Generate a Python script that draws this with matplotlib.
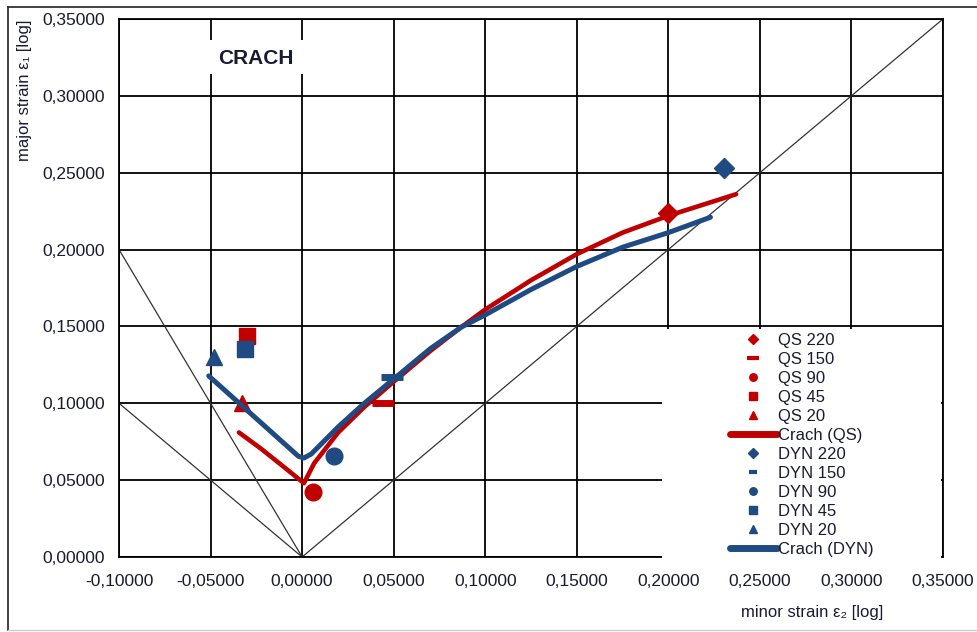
import matplotlib
matplotlib.use("Agg")
from matplotlib import pyplot as plt
from matplotlib.patches import Rectangle
from matplotlib.lines import Line2D
from matplotlib.ticker import FuncFormatter, MultipleLocator

plt.rcParams['font.family'] = ['Liberation Sans', 'DejaVu Sans']

RED = '#C00000'
BLUE = '#1F4A82'
TXT = '#1a1a33'

# punkty pomiarowe (minor, major)
qs_labels = ['QS 220', 'QS 150', 'QS 90', 'QS 45', 'QS 20']
qs_minor = [0.200, 0.044, 0.006, -0.030, -0.033]
qs_major = [0.224, 0.100, 0.042, 0.144, 0.100]

dyn_labels = ['DYN 220', 'DYN 150', 'DYN 90', 'DYN 45', 'DYN 20']
dyn_minor = [0.2305, 0.049, 0.0175, -0.031, -0.048]
dyn_major = [0.253, 0.117, 0.066, 0.135, 0.130]

markers = ['D', '_', 'o', 's', '^']
msizes = [10.5, 16, 12, 12, 12]

# krzywe graniczne (FLC)
flc_qs_minor = [-0.0345, -0.0225, -0.010, 0.001, 0.0066, 0.0197, 0.034, 0.049,
                0.070, 0.087, 0.100, 0.125, 0.150, 0.175, 0.200, 0.237]
flc_qs_major = [0.081, 0.0705, 0.0586, 0.048, 0.061, 0.081, 0.0976, 0.113,
                0.134, 0.1496, 0.161, 0.180, 0.197, 0.211, 0.222, 0.236]

flc_dyn_minor = [-0.051, -0.002, 0.001, 0.005, 0.0197, 0.034, 0.054, 0.070,
                 0.087, 0.100, 0.125, 0.150, 0.175, 0.200, 0.223]
flc_dyn_major = [0.1178, 0.0655, 0.0644, 0.067, 0.0846, 0.100, 0.1197, 0.1355,
                 0.1496, 0.1575, 0.174, 0.189, 0.2015, 0.211, 0.221]

fig = plt.figure(figsize=(9.77, 6.32), dpi=100)
ax = fig.add_axes([0.1218, 0.1187, 0.8434, 0.8513])

# ramka dookoła
fig.add_artist(Line2D([8 / 977, 8 / 977], [2 / 632, 625 / 632], color='#333333', lw=1.3))
fig.add_artist(Line2D([8 / 977, 1.0], [625 / 632, 625 / 632], color='#333333', lw=1.3))
fig.add_artist(Line2D([8 / 977, 1.0], [2 / 632, 2 / 632], color='#cccccc', lw=1.0))

ax.set_xlim(-0.10, 0.35)
ax.set_ylim(0.0, 0.35)
ax.xaxis.set_major_locator(MultipleLocator(0.05))
ax.yaxis.set_major_locator(MultipleLocator(0.05))
fmt = FuncFormatter(lambda v, p: f"{v:.5f}".replace('.', ','))
ax.xaxis.set_major_formatter(fmt)
ax.yaxis.set_major_formatter(fmt)
ax.tick_params(length=0, labelsize=12.5, labelcolor=TXT)
ax.tick_params(axis='y', pad=10)
ax.tick_params(axis='x', pad=12)

ax.grid(True, color='black', linewidth=1.3)
ax.set_axisbelow(True)
for s in ax.spines.values():
    s.set_linewidth(1.3)
    s.set_color('black')

# linie pomocnicze ze środka układu
for k in [1.0, -1.0, -2.0]:
    ax.axline((0, 0), slope=k, color='#333333', linewidth=0.9, zorder=1.5)

# napis w ramce
ax.add_patch(Rectangle((-0.0519, 0.3143), 0.0546, 0.0221, facecolor='white',
                       edgecolor='none', zorder=1.8))
ax.text(-0.0251, 0.3246, 'CRACH', fontsize=15, fontweight='bold', color=TXT,
        ha='center', va='center', zorder=3)

for lab, x, y, m, ms in zip(qs_labels, qs_minor, qs_major, markers, msizes):
    ax.plot([x], [y], linestyle='none', marker=m, color=RED, markersize=ms,
            markeredgewidth=5 if m == '_' else 1, label=lab, zorder=3)
ax.plot(flc_qs_minor, flc_qs_major, color=RED, linewidth=3.3, label='Crach (QS)',
        solid_capstyle='round', solid_joinstyle='round', zorder=3)

for lab, x, y, m, ms in zip(dyn_labels, dyn_minor, dyn_major, markers, msizes):
    ax.plot([x], [y], linestyle='none', marker=m, color=BLUE, markersize=ms,
            markeredgewidth=5 if m == '_' else 1, label=lab, zorder=4)
ax.plot(flc_dyn_minor, flc_dyn_major, color=BLUE, linewidth=3.6, label='Crach (DYN)',
        solid_capstyle='round', solid_joinstyle='round', zorder=4)

# białe tło pod legendą
ax.add_patch(Rectangle((0.1965, -0.002), 0.1525, 0.1505, facecolor='white',
                       edgecolor='none', zorder=2.6, clip_on=False))

leg = ax.legend(loc='upper left', bbox_to_anchor=(0.7415, 0.416), frameon=False,
                fontsize=12, markerscale=0.45, handlelength=2.8, handletextpad=0.1,
                labelspacing=0.24, borderpad=0, borderaxespad=0)
leg.set_zorder(6)
for ln in leg.get_lines():
    if ln.get_linestyle() == '-':
        ln.set_linewidth(5)
    elif ln.get_marker() == '_':
        ln.set_markersize(9 if ln.get_color() == RED else 6)
        ln.set_markeredgewidth(3)
for t in leg.get_texts():
    t.set_color(TXT)

fig.text(25 / 977, 1 - 90 / 632, 'major strain ε₁ [log]', rotation=90, fontsize=12,
         color=TXT, ha='center', va='center')
fig.text(812 / 977, 1 - 612 / 632, 'minor strain ε₂ [log]', fontsize=12,
         color=TXT, ha='center', va='center')

fig.savefig('out.png', dpi=100)
